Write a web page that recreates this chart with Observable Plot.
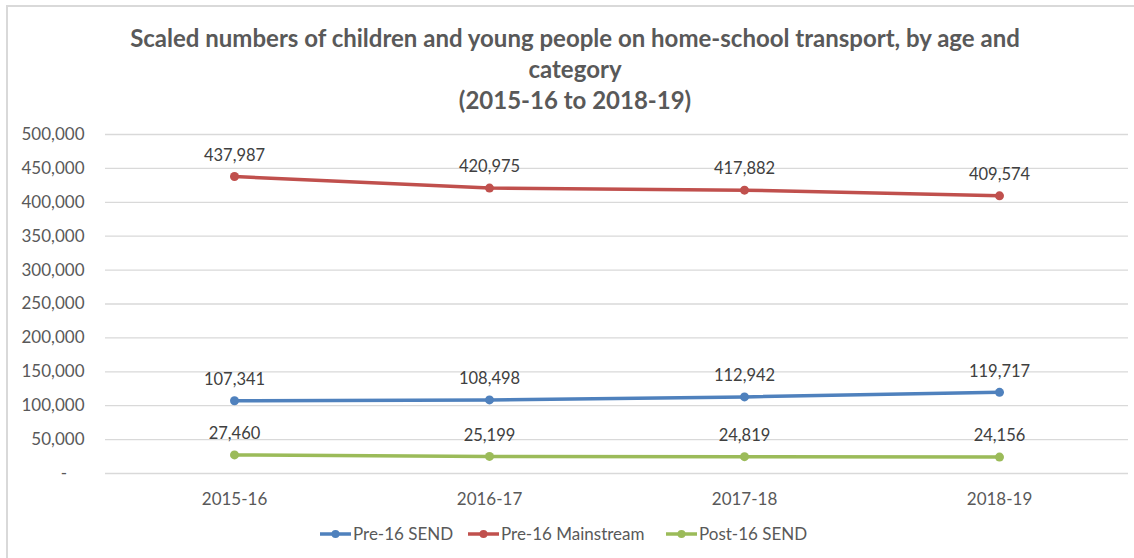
<!DOCTYPE html>
<html>
<head>
<meta charset="utf-8">
<script src="https://cdn.jsdelivr.net/npm/d3@7"></script>
<script src="https://cdn.jsdelivr.net/npm/@observablehq/plot@0.6"></script>
<style>
  html, body { margin: 0; padding: 0; background: #fff; }
  body { width: 1134px; height: 558px; overflow: hidden; position: relative; font-family: Lato, "Open Sans", sans-serif; }
  #frame { position: absolute; left: 6px; top: 5px; width: 1140px; height: 560px; border-left: 2px solid #d9d9d9; border-top: 2px solid #d9d9d9; box-sizing: border-box; }
  #title { position: absolute; left: 0; top: 22px; width: 1150px; text-align: center; font-weight: bold; font-size: 24px; line-height: 31px; color: #595959; }
  #chart { position: absolute; left: 0; top: 120px; }
  #legend { position: absolute; left: 0; top: 523px; width: 1134px; height: 22px; }
  .item { position: absolute; top: 0; font-size: 17px; color: #595959; line-height: 22px; white-space: nowrap; }
  .item svg { vertical-align: middle; margin-right: 2px; margin-top: -3px; }
</style>
</head>
<body>
<div id="frame"></div>
<div id="title">Scaled numbers of children and young people on home-school transport, by age and<br>category<br>(2015-16 to 2018-19)</div>
<div id="chart"></div>
<div id="legend"></div>
<script>
const years = ["2015-16", "2016-17", "2017-18", "2018-19"];
const seriesNames = ["Pre-16 SEND", "Pre-16 Mainstream", "Post-16 SEND"];
const pre16Send = [107341, 108498, 112942, 119717];
const pre16Mainstream = [437987, 420975, 417882, 409574];
const post16Send = [27460, 25199, 24819, 24156];
const colors = ["#4F81BD", "#C0504D", "#9BBB59"];
const yTicks = [0, 50000, 100000, 150000, 200000, 250000, 300000, 350000, 400000, 450000, 500000];

const seriesValues = [pre16Send, pre16Mainstream, post16Send];
const data = [];
seriesNames.forEach((s, i) => years.forEach((y, j) => data.push({series: s, year: y, value: seriesValues[i][j]})));

const fmt = d3.format(",");
const chart = Plot.plot({
  width: 1134,
  height: 400,
  marginLeft: 105,
  marginRight: 6,
  marginTop: 14,
  marginBottom: 47,
  style: {fontFamily: "Lato, 'Open Sans', sans-serif", fontSize: "17px", color: "#595959", background: "transparent"},
  x: {type: "point", domain: years, padding: 0.5, label: null},
  y: {domain: [0, 500000], label: null},
  color: {domain: seriesNames, range: colors},
  marks: [
    Plot.gridY(yTicks, {stroke: "#d9d9d9", strokeOpacity: 1, strokeWidth: 1.3}),
    Plot.axisY(yTicks, {tickSize: 0, tickPadding: 21, fontSize: 17, fill: "#595959",
      tickFormat: d => d === 0 ? "-\u00a0\u00a0\u00a0\u00a0" : fmt(d), label: null}),
    Plot.axisX({tickSize: 0, tickPadding: 19, fontSize: 17, fill: "#595959", label: null}),
    Plot.line(data, {x: "year", y: "value", z: "series", stroke: "series", strokeWidth: 3.5}),
    Plot.dot(data, {x: "year", y: "value", fill: "series", r: 4.5}),
    Plot.text(data, {x: "year", y: "value", text: d => fmt(d.value), dy: -21, fontSize: 16.5, fill: "#404040"})
  ]
});
document.getElementById("chart").appendChild(chart);

const legend = document.getElementById("legend");
const lefts = [320, 468, 666];
seriesNames.forEach((s, i) => {
  const div = document.createElement("div");
  div.className = "item";
  div.style.left = lefts[i] + "px";
  div.innerHTML = `<svg width="31" height="10"><line x1="0" y1="5" x2="31" y2="5" stroke="${colors[i]}" stroke-width="3.5"/><circle cx="15.5" cy="5" r="4" fill="${colors[i]}"/></svg>${s}`;
  legend.appendChild(div);
});
</script>
</body>
</html>
